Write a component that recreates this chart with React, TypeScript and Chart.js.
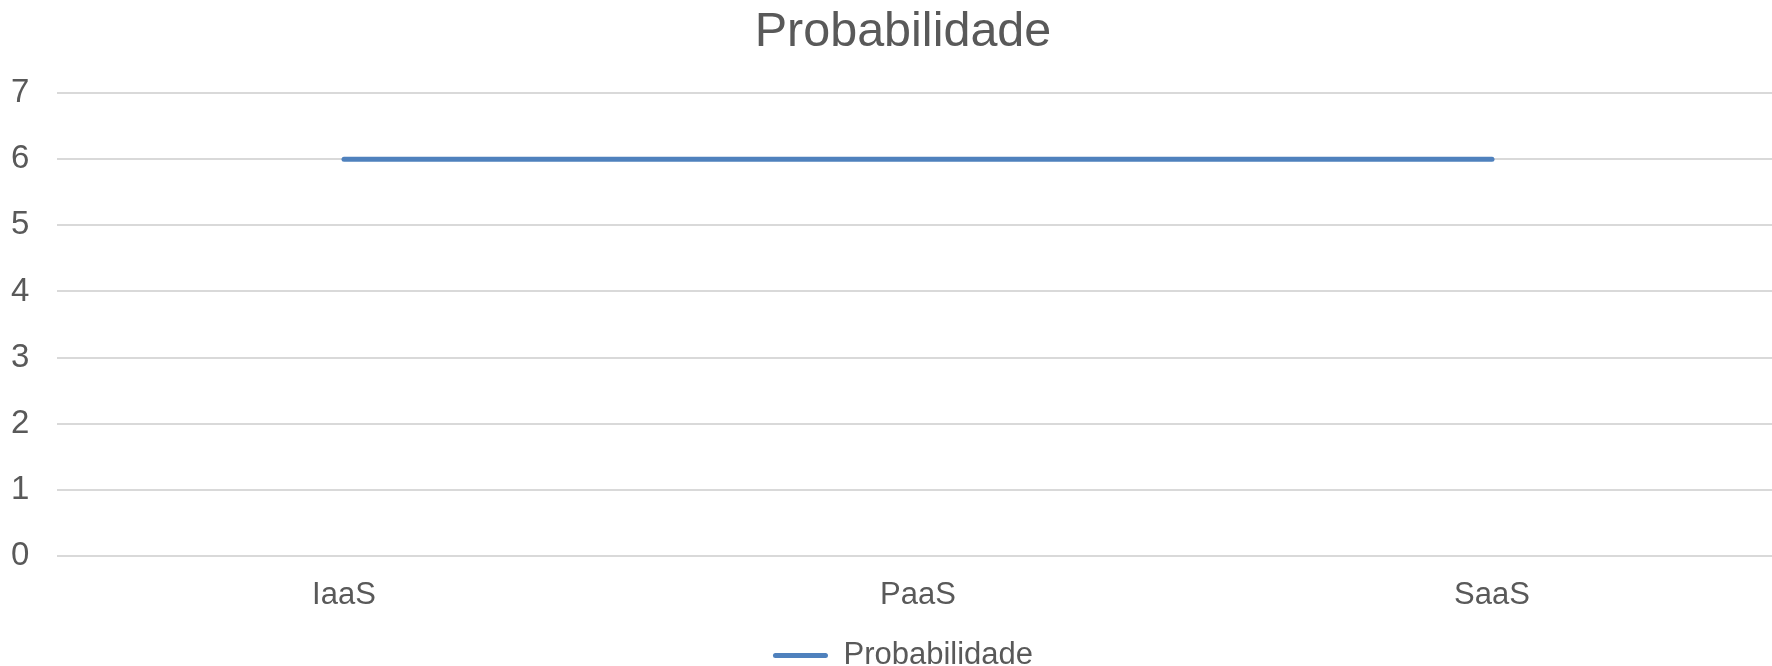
import React, { useEffect, useRef } from "react";
import { Chart, registerables } from "chart.js";

Chart.register(...registerables);

const categories = ["IaaS", "PaaS", "SaaS"];
const probabilidade = [6, 6, 6];
const seriesName = "Probabilidade";
const chartTitle = "Probabilidade";
const yMin = 0;
const yMax = 7;
const yStep = 1;

const FONT_FAMILY = '"Liberation Sans", Arial, sans-serif';
const TEXT_COLOR = "#595959";
const LINE_COLOR = "#4f81bd";
const GRID_COLOR = "#d9d9d9";

const CANVAS_W = 1806;
const CANVAS_H = 681;

export default function App() {
  const ref = useRef<HTMLCanvasElement>(null);

  useEffect(() => {
    const canvas = ref.current;
    if (!canvas) return;
    const chart = new Chart(canvas, {
      type: "line",
      data: {
        labels: categories,
        datasets: [
          {
            label: seriesName,
            data: probabilidade,
            borderColor: LINE_COLOR,
            backgroundColor: LINE_COLOR,
            borderWidth: 5,
            borderCapStyle: "round",
            borderJoinStyle: "round",
            pointRadius: 0,
            pointHoverRadius: 0,
            tension: 0,
            fill: false,
          },
        ],
      },
      options: {
        responsive: false,
        animation: false,
        devicePixelRatio: 1,
        layout: { padding: { left: 27, right: 27, top: 0, bottom: 0 } },
        plugins: {
          title: {
            display: true,
            text: chartTitle,
            color: TEXT_COLOR,
            font: { family: FONT_FAMILY, size: 48.5, weight: "normal" },
            padding: { top: 4, bottom: 30.8 },
          },
          legend: {
            position: "bottom",
            labels: {
              color: TEXT_COLOR,
              font: { family: FONT_FAMILY, size: 31 },
              boxWidth: 55,
              boxHeight: 5,
              padding: 10,
              generateLabels: () => [
                {
                  text: seriesName,
                  fillStyle: LINE_COLOR,
                  strokeStyle: LINE_COLOR,
                  lineWidth: 0,
                  borderRadius: 2.5,
                  datasetIndex: 0,
                  hidden: false,
                  fontColor: TEXT_COLOR,
                } as any,
              ],
            },
          },
          tooltip: { enabled: false },
        },
        scales: {
          x: {
            offset: true,
            grid: { display: false, drawTicks: false },
            border: { display: false },
            ticks: {
              color: TEXT_COLOR,
              font: { family: FONT_FAMILY, size: 31 },
              padding: 21,
              maxRotation: 0,
              autoSkip: false,
            },
            afterFit: (s: any) => {
              s.height = 74;
            },
          },
          y: {
            min: yMin,
            max: yMax,
            ticks: {
              stepSize: yStep,
              color: TEXT_COLOR,
              font: { family: FONT_FAMILY, size: 33 },
              mirror: true,
              padding: -46,
            },
            grid: { color: GRID_COLOR, lineWidth: 2, drawTicks: false },
            border: { display: false },
            afterFit: (s: any) => {
              s.width = 30;
            },
          },
        },
      },
    });
    return () => chart.destroy();
  }, []);

  return (
    <div
      style={{
        position: "fixed",
        left: 0,
        top: 0,
        width: 1772,
        height: 666,
        overflow: "hidden",
        background: "#ffffff",
      }}
    >
      <canvas
        ref={ref}
        width={CANVAS_W}
        height={CANVAS_H}
        style={{ display: "block", width: CANVAS_W, height: CANVAS_H }}
      />
    </div>
  );
}
